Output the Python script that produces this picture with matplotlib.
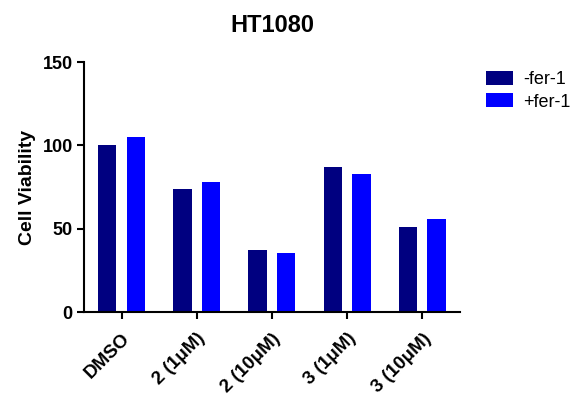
import matplotlib
matplotlib.use("Agg")
import matplotlib.pyplot as plt
import numpy as np

plt.rcParams['font.family'] = ['Liberation Sans', 'DejaVu Sans']

categories = ["DMSO", "2 (1μM)", "2 (10μM)", "3 (1μM)", "3 (10μM)"]
minus_fer1 = [100, 74, 37, 87, 51]
plus_fer1 = [105, 78, 35.5, 83, 56]
series_names = ["-fer-1", "+fer-1"]
colors = ["#000080", "#0000FF"]
yticks = [0, 50, 100, 150]

fig = plt.figure(figsize=(5.83, 3.98), dpi=100)
ax = fig.add_axes([0.144, 0.216, 0.645, 0.628])

x = np.arange(len(categories))
w = 0.245
off = 0.19
ax.bar(x - off, minus_fer1, width=w, color=colors[0], label=series_names[0])
ax.bar(x + off, plus_fer1, width=w, color=colors[1], label=series_names[1])

ax.set_xlim(-0.5, len(categories) - 0.5)
ax.set_ylim(0, 150)
ax.set_yticks(yticks)
ax.set_xticks(x)
ax.set_xticklabels(categories, rotation=45, ha='right', rotation_mode='anchor',
                   fontsize=13.5, fontweight='bold')
for lab in ax.get_yticklabels():
    lab.set_fontsize(13)
    lab.set_fontweight('bold')

for s in ['top', 'right']:
    ax.spines[s].set_visible(False)
for s in ['left', 'bottom']:
    ax.spines[s].set_linewidth(1.5)
ax.tick_params(axis='both', width=1.5, length=5, direction='out', pad=3)
ax.tick_params(axis='x', pad=8)

ax.set_ylabel("Cell Viability", fontsize=14, fontweight='bold', labelpad=5)
ax.set_title("HT1080", fontsize=17, fontweight='bold', pad=22)

ax.legend(loc='upper left', bbox_to_anchor=(1.025, 1.03), frameon=False,
          fontsize=13, handlelength=1.5, handleheight=0.8, labelspacing=0.3,
          handletextpad=0.6)

fig.savefig("out.png", dpi=100)
